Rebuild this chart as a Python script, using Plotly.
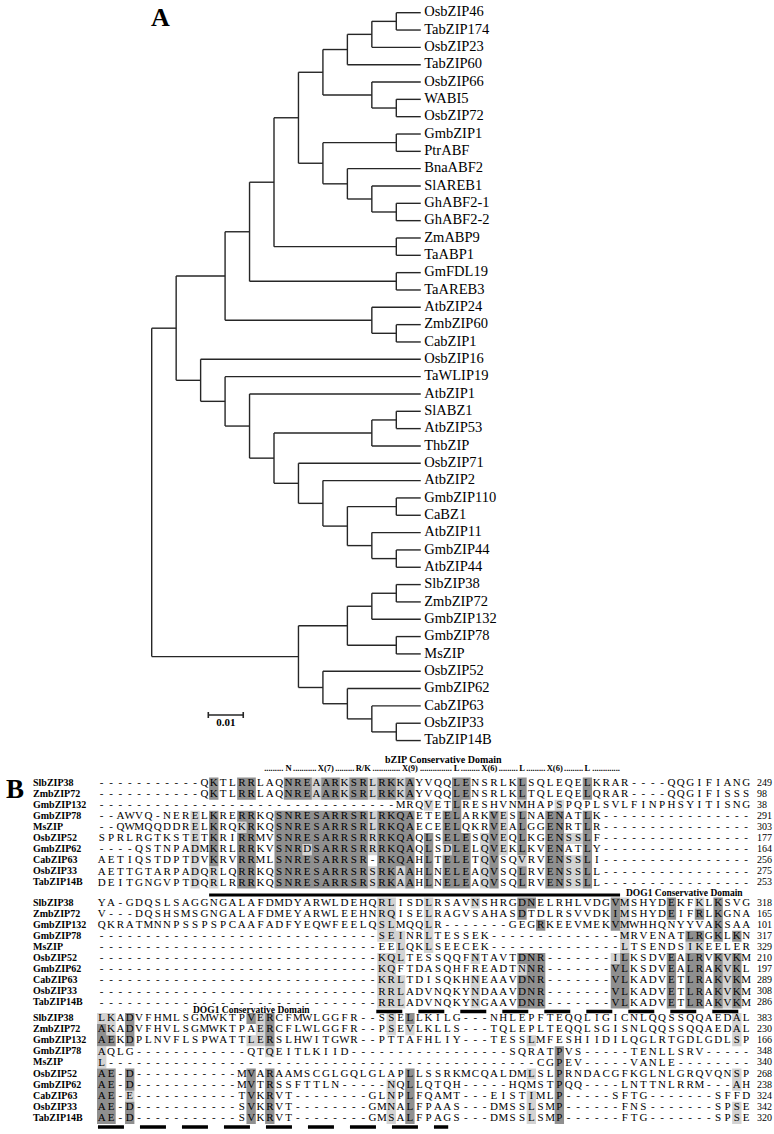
import plotly.graph_objects as go

# ======================= Panel A : tree (Newick, branch lengths) =======================
CLADE_ABF1 = "(((OsbZIP46:0.007,TabZIP174:0.007):0.007,OsbZIP23:0.014):0.007,TabZIP60:0.021)"
CLADE_ABF2 = "(OsbZIP66:0.014,(WABI5:0.007,OsbZIP72:0.007):0.007)"
CLADE_ABF3 = ("((GmbZIP1:0.007,PtrABF:0.007):0.021,(BnaABF2:0.021,"
              "(SlAREB1:0.014,(GhABF2-1:0.007,GhABF2-2:0.007):0.007):0.007):0.007)")
CLADE_ABP = "(ZmABP9:0.007,TaABP1:0.007)"
CLADE_FDL = "(GmFDL19:0.007,TaAREB3:0.007)"
CLADE_AT24 = "(AtbZIP24:0.014,(ZmbZIP60:0.007,CabZIP1:0.007):0.007)"
CLADE_ABZ = "((SlABZ1:0.007,AtbZIP53:0.007):0.007,ThbZIP:0.014)"
CLADE_BZ1 = ("((GmbZIP110:0.007,CaBZ1:0.007):0.014,"
             "(AtbZIP11:0.014,(GmbZIP44:0.007,AtbZIP44:0.007):0.007):0.007)")
CLADE_S1A = ("(((SlbZIP38:0.007,ZmbZIP72:0.007):0.007,GmbZIP132:0.014):0.007,"
             "(GmbZIP78:0.007,MsZIP:0.007):0.014)")
CLADE_S1B = ("(OsbZIP52:0.028,(GmbZIP62:0.021,(CabZIP63:0.014,"
             "(OsbZIP33:0.007,TabZIP14B:0.007):0.007):0.007):0.007)")

_u7 = f"({CLADE_ABF1}:0.007,{CLADE_ABF2}:0.014)"
_u6 = f"({_u7}:0.007,{CLADE_ABF3}:0.007)"
_u5 = f"({_u6}:0.007,{CLADE_ABP}:0.035)"
_u4 = f"({_u5}:0.007,{CLADE_FDL}:0.042)"
_u3 = f"({_u4}:0.007,{CLADE_AT24}:0.042)"
_m7 = f"(AtbZIP2:0.028,{CLADE_BZ1}:0.007)"
_m6 = f"(OsbZIP71:0.035,{_m7}:0.007)"
_m5 = f"({CLADE_ABZ}:0.028,{_m6}:0.007)"
_m4 = f"(AtbZIP1:0.049,{_m5}:0.007)"
_m3 = f"(TaWLIP19:0.056,{_m4}:0.007)"
_m2 = f"(OsbZIP16:0.063,{_m3}:0.007)"
_a1 = f"({_u3}:0.014,{_m2}:0.007)"
_low = f"({CLADE_S1A}:0.014,{CLADE_S1B}:0.007)"
TREE_NEWICK = f"({_a1}:0.007,{_low}:0.042);"

SCALE_BAR_LEN = 0.01
SCALE_BAR_LABEL = "0.01"

# ======================= Panel B : alignment =======================
SEQ_NAMES = ["SlbZIP38", "ZmbZIP72", "GmbZIP132", "GmbZIP78", "MsZIP",
             "OsbZIP52", "GmbZIP62", "CabZIP63", "OsbZIP33", "TabZIP14B"]

BLOCK1_SEQ = [
    "-" * 11 + "QKTLRRLAQNREAARKSRLRKKAYVQQLENSRLKLSQLEQELKRAR" + "----" + "QQGIFIANG",
    "-" * 11 + "QKTLRRLAQNREAARKSRLRKKAYVQQLENSRLKLTQLEQELQRAR" + "----" + "QQGIFISSS",
    "-" * 32 + "MRQVETLRESHVNMHAPSPQPLSVLFINPHSYITISNG",
    "--AWVQ-NERELKRERRKQSNRESARRSRLRKQAETEELARKVESLNAENATLK" + "-" * 16,
    "--QWMQQDDRELKRQKRKQSNRESARRSRLRKQAECEELQKRVEALGGENRTLR" + "-" * 16,
    "SPRLRGTKSTETKRIRRMVSNRESARRSRRRKQAQLSELESQVEQLKGENSSLF" + "-" * 16,
    "----QSTNPADMKRLRRKVSNRDSARRSRRRKQAQLSDLELQVEKLKVENATLY" + "-" * 16,
    "AETIQSTDPTDVKRVRRMLSNRESARRSR-RKQAHLTELETQVSQVRVENSSLI" + "-" * 16,
    "AETTGTARPADQRLQRRKQSNRESARRSRSRKAAHLNELEAQVSQLRVENSSLL" + "-" * 16,
    "DEITGNGVPTDQRLRRRKQSNRESARRSRSRKAAHLNELEAQVSQLRVENSSLL" + "-" * 16,
]
BLOCK1_END = [249, 98, 38, 291, 303, 177, 164, 256, 275, 253]

BLOCK2_SEQ = [
    "YA-GDQSLSAGGNGALAFDMDYARWLDEHQRLISDLRSAVNSHRGDNELRHLVDGVMSHYDEKFKLKSVG",
    "V---DQSHSMSGNGALAFDMEYARWLEEHNRQISELRAGVSAHASDTDLRSVVDKIMSHYDEIFRLKGNA",
    "QKRATMNNPSSPSPCAAFADFYEQWFEELQSLMQQLR" + "-" * 7 + "GEGRKEEVMEKVMWHHQNYYVAKSAA",
    "-" * 30 + "SEINRLTESSEK" + "-" * 14 + "MRVENATLRGKLKN",
    "-" * 30 + "EELQKLSEECEK" + "-" * 14 + "LTSENDSIKEELER",
    "-" * 30 + "KQLTESSQQFNTAVTDNR" + "-" * 7 + "ILKSDVEALRVKVKM",
    "-" * 30 + "KQFTDASQHFREADTNNR" + "-" * 7 + "VLKSDVEALRAKVKL",
    "-" * 30 + "KRLTDISQKHNEAAVDNR" + "-" * 7 + "VLKADVETLRAKVKM",
    "-" * 30 + "RRLADVNQKYNDAAVDNR" + "-" * 7 + "VLKADVETLRAKVKM",
    "-" * 30 + "RRLADVNQKYNGAAVDNR" + "-" * 7 + "VLKADVETLRAKVKM",
]
BLOCK2_END = [318, 165, 101, 317, 329, 210, 197, 289, 308, 286]

BLOCK3_SEQ = [
    "LKADVFHMLSGMWKTPVERCFMWLGGFR--SSELLKILG---NHLEPFTEQQLIGICNLQQSSQQAEDAL",
    "AKADVFHVLSGMWKTPAERCFLWLGGFR--PSEVLKLLS---TQLEPLTEQQLSGISNLQQSSQQAEDAL",
    "AEKDPLNVFLSPWATTLERSLHWITGWR--PTTAFHLIY---TESSLMFESHIIDILQGLRTGDLGDLSP",
    "AQLG" + "-" * 12 + "QTQEITLKIID" + "-" * 17 + "SQRATPVS" + "-" * 5 + "TENLLSRV" + "-" * 5,
    "L" + "-" * 46 + "CGPEV" + "-" * 5 + "VANLE" + "-" * 8,
    "AE-D" + "-" * 11 + "MVARAAMSCGLGQLGLAPLLSSRKMCQALDMLSLPRNDACGFKGLNLGRQVQNSP",
    "AE-D" + "-" * 11 + "MVTRSSFTTLN" + "-" * 5 + "NQLLQTQH" + "-" * 5 + "HQMSTPQQ" + "-" * 4 + "LNTTNLRRM" + "---" + "AH",
    "AE-E" + "-" * 11 + "TVKRVT" + "-" * 8 + "GLNPLFQAMT" + "---" + "EISTIMLP" + "-" * 5 + "SFTG" + "-" * 7 + "SFFD",
    "AE-D" + "-" * 11 + "SVKRVT" + "-" * 8 + "GMNALFPAAS" + "---" + "DMSSLSMP" + "-" * 6 + "FNS" + "-" * 7 + "SPSE",
    "AE-D" + "-" * 11 + "SVKRVT" + "-" * 8 + "GMSALFPAGS" + "---" + "DMSSLSMP" + "-" * 6 + "FTG" + "-" * 7 + "SPSE",
]
BLOCK3_END = [383, 230, 166, 348, 340, 268, 238, 324, 342, 320]

# homology shading: column indices per row (dark / light)
_b = list(range(19, 29))
BLOCK1_DARK = [
    [12, 15, 16, 20, 21, 22, 24, 25, 27, 28, 30, 31, 33, 38, 39, 45, 52],
    [12, 15, 16, 20, 21, 22, 24, 25, 27, 28, 30, 31, 33, 38, 39, 45, 52],
    [38],
    [12, 15, 16] + _b + [30, 31, 32, 33, 37, 38, 42, 45, 48, 49, 52],
    [12, 16] + _b + [30, 31, 32, 33, 37, 38, 42, 45, 48, 49, 52],
    [12, 15, 16] + _b + [30, 31, 32, 33, 35, 37, 38, 39, 42, 45, 48, 49, 52],
    [12, 15, 16, 19, 20, 21, 23, 24, 25, 26, 27, 28, 30, 31, 32, 33, 35, 38, 39, 42, 45, 48, 49, 52],
    [12, 15, 16] + _b + [30, 31, 32, 33, 35, 37, 38, 39, 42, 48, 49, 52],
    [15, 16] + _b + [30, 31, 33, 35, 37, 38, 39, 42, 45, 48, 49, 52],
    [15, 16] + _b + [30, 31, 33, 35, 37, 38, 39, 42, 45, 48, 49, 52],
]
BLOCK1_LIGHT = [
    [23, 26, 29, 32], [23, 26, 29, 32], [35, 45, 49],
    [10, 29, 43], [10, 15, 29, 43], [10, 29, 41, 43, 50, 51],
    [10, 22, 29, 37, 41, 43], [10, 41, 45, 50, 51],
    [10, 12, 29, 32, 41, 50, 51], [10, 12, 29, 32, 41, 50, 51],
]
BLOCK2_DARK = [
    [45, 46, 55, 61, 66], [45, 55, 61, 64, 66], [47, 55, 66], [63, 64, 66, 68], [],
    [45, 46, 47, 56, 61, 63, 64, 66, 68], [46, 47, 55, 56, 61, 63, 64, 66, 68],
    [45, 46, 47, 55, 56, 61, 63, 64, 66, 68], [45, 46, 47, 55, 56, 61, 63, 64, 66, 68],
    [45, 46, 47, 55, 56, 61, 63, 64, 66, 68],
]
BLOCK2_LIGHT = [
    [30, 31, 35, 40, 56, 64], [30, 31, 35, 56], [30, 31, 35, 56], [30, 31, 32, 35, 56],
    [32, 35, 56, 63, 64], [30, 31, 32, 40, 55, 67], [30, 31, 45, 67],
    [30, 31, 32, 40, 67], [30, 31, 32, 40, 67], [30, 31, 32, 40, 67],
]
BLOCK3_DARK = [
    [3, 16, 18, 33], [0, 3, 18], [0, 1, 3, 18], [49], [49],
    [0, 1, 3, 16, 18, 33, 49], [0, 1, 3, 16, 18, 33, 49], [0, 1, 16, 18, 33, 49],
    [0, 1, 3, 16, 18, 33, 49], [0, 1, 3, 16, 18, 33, 49],
]
BLOCK3_LIGHT = [
    [0, 1, 17, 31, 68], [1, 17, 31, 33, 68], [16, 17, 46, 68], [0, 18], [0],
    [46, 68], [31, 68], [3, 31, 46], [31, 46, 68], [31, 46, 68],
]

MOTIF_LABELS = ["N", "X(7)", "R/K", "X(9)", "L", "X(6)", "L", "X(6)", "L"]
MOTIF_COLS = [20, 24, 28, 33, 38, 41.5, 45, 48.5, 52]
MOTIF_SPAN = (17.3, 55.6)
BZIP_DOMAIN_COLS = (11.5, 55.5)          # block 1
DOG1_DOMAIN_B2 = (29.4, 68.8)            # block 2
DOG1_DOMAIN_B3 = (-0.4, 37.1)            # block 3

# ======================= geometry / styles =======================
W, H = 774, 1134
TREE_X0_PX, TREE_PX_PER_UNIT = 151.7, 24.46 / 0.007
TREE_Y0_PX, TREE_LEAF_PX = 12.7, 17.33
ALN_X0_PX, ALN_COL_PX = 101.7, 9.34
BLOCK_Y0 = [783.0, 903.0, 1018.5]
ROW_DY = 11.1
SERIF = "Liberation Serif"
DARK, LIGHT = "#8f8f8f", "#d3d3d3"


def parse_newick(s):
    pos = [0]

    def node():
        kids = []
        if s[pos[0]] == "(":
            pos[0] += 1
            while True:
                kids.append(node())
                ch = s[pos[0]]
                pos[0] += 1
                if ch == ")":
                    break
        st = pos[0]
        while s[pos[0]] not in ":,);":
            pos[0] += 1
        name = s[st:pos[0]]
        length = 0.0
        if s[pos[0]] == ":":
            pos[0] += 1
            st = pos[0]
            while s[pos[0]] not in ",);":
                pos[0] += 1
            length = float(s[st:pos[0]])
        return {"name": name, "len": length, "kids": kids}

    return node()


root = parse_newick(TREE_NEWICK)
leaves = []


def place(n, x0):
    n["x"] = x0 + n["len"]
    if not n["kids"]:
        n["y"] = len(leaves)
        leaves.append(n)
    else:
        for k in n["kids"]:
            place(k, n["x"])
        n["y"] = (n["kids"][0]["y"] + n["kids"][-1]["y"]) / 2


place(root, 0.0)
lx, ly = [], []


def draw(n):
    if n["kids"]:
        lx.extend([n["x"], n["x"], None])
        ly.extend([n["kids"][0]["y"], n["kids"][-1]["y"], None])
        for k in n["kids"]:
            lx.extend([n["x"], k["x"], None])
            ly.extend([k["y"], k["y"], None])
            draw(k)


draw(root)

fig = go.Figure()
fig.add_trace(go.Scatter(x=lx, y=ly, mode="lines", line=dict(color="#262626", width=1.4),
                         xaxis="x", yaxis="y", hoverinfo="skip"))
fig.add_trace(go.Scatter(x=[l["x"] + 3.5 / TREE_PX_PER_UNIT for l in leaves], y=[l["y"] for l in leaves],
                         text=[l["name"] for l in leaves], mode="text", textposition="middle right",
                         textfont=dict(family=SERIF, size=14.5, color="black"),
                         xaxis="x", yaxis="y", hoverinfo="skip"))
# scale bar
sb_x0 = (208.3 - TREE_X0_PX) / TREE_PX_PER_UNIT
sb_y = (715.0 - TREE_Y0_PX) / TREE_LEAF_PX
tk = 3.0 / TREE_LEAF_PX
fig.add_trace(go.Scatter(
    x=[sb_x0, sb_x0 + SCALE_BAR_LEN, None, sb_x0, sb_x0, None, sb_x0 + SCALE_BAR_LEN, sb_x0 + SCALE_BAR_LEN],
    y=[sb_y, sb_y, None, sb_y - tk, sb_y + tk, None, sb_y - tk, sb_y + tk],
    mode="lines", line=dict(color="#262626", width=1.6), xaxis="x", yaxis="y", hoverinfo="skip"))
fig.add_trace(go.Scatter(x=[sb_x0 + SCALE_BAR_LEN / 2], y=[sb_y + 8.5 / TREE_LEAF_PX], text=[SCALE_BAR_LABEL],
                         mode="text", textfont=dict(family=SERIF, size=11, color="black", weight="bold"),
                         xaxis="x", yaxis="y", hoverinfo="skip"))


# ---------------- alignment shading ----------------
def cell_polys(blocks):
    xs, ys = [], []
    for b, marks in enumerate(blocks):
        for r, cols in enumerate(marks):
            yc = BLOCK_Y0[b] + r * ROW_DY
            runs = []
            for c in sorted(cols):
                if runs and c == runs[-1][1] + 1:
                    runs[-1][1] = c
                else:
                    runs.append([c, c])
            for c0, c1 in runs:
                x0, x1 = c0 - 0.5, c1 + 0.5
                y0, y1 = yc - ROW_DY / 2, yc + ROW_DY / 2
                xs += [x0, x1, x1, x0, x0, None]
                ys += [y0, y0, y1, y1, y0, None]
    return xs, ys


for blocks, col in [([BLOCK1_LIGHT, BLOCK2_LIGHT, BLOCK3_LIGHT], LIGHT),
                    ([BLOCK1_DARK, BLOCK2_DARK, BLOCK3_DARK], DARK)]:
    xs, ys = cell_polys(blocks)
    fig.add_trace(go.Scatter(x=xs, y=ys, mode="lines", fill="toself", fillcolor=col,
                             line=dict(width=0, color=col), xaxis="x2", yaxis="y2", hoverinfo="skip"))

# ---------------- alignment text ----------------
sx, sy, st = [], [], []
nx, ny, nt = [], [], []
ex, ey, et = [], [], []
for b, (seqs, ends) in enumerate([(BLOCK1_SEQ, BLOCK1_END), (BLOCK2_SEQ, BLOCK2_END), (BLOCK3_SEQ, BLOCK3_END)]):
    for r, (seq, end) in enumerate(zip(seqs, ends)):
        yc = BLOCK_Y0[b] + r * ROW_DY
        for c, ch in enumerate(seq):
            sx.append(c)
            sy.append(yc)
            st.append(ch)
        nx.append((33.0 - ALN_X0_PX) / ALN_COL_PX)
        ny.append(yc)
        nt.append(SEQ_NAMES[r])
        ex.append((757.0 - ALN_X0_PX) / ALN_COL_PX)
        ey.append(yc)
        et.append(str(end))

fig.add_trace(go.Scatter(x=sx, y=sy, text=st, mode="text", textposition="middle center",
                         textfont=dict(family=SERIF, size=11, color="black"),
                         xaxis="x2", yaxis="y2", hoverinfo="skip"))
fig.add_trace(go.Scatter(x=nx, y=ny, text=nt, mode="text", textposition="middle right",
                         textfont=dict(family=SERIF, size=10, color="black", weight="bold"),
                         xaxis="x2", yaxis="y2", hoverinfo="skip"))
fig.add_trace(go.Scatter(x=ex, y=ey, text=et, mode="text", textposition="middle right",
                         textfont=dict(family=SERIF, size=10, color="black"),
                         xaxis="x2", yaxis="y2", hoverinfo="skip"))

# ---------------- domain marks ----------------
y_bzip = BLOCK_Y0[0] + 9 * ROW_DY + 12.0
fig.add_trace(go.Scatter(x=list(BZIP_DOMAIN_COLS), y=[y_bzip, y_bzip], mode="lines",
                         line=dict(color="black", width=3), xaxis="x2", yaxis="y2", hoverinfo="skip"))
for b, span in [(1, DOG1_DOMAIN_B2), (2, DOG1_DOMAIN_B3)]:
    yd = BLOCK_Y0[b] + 9 * ROW_DY + 8.5
    fig.add_trace(go.Scatter(x=list(span), y=[yd, yd], mode="lines",
                             line=dict(color="black", width=3.5, dash="26px,16px"),
                             xaxis="x2", yaxis="y2", hoverinfo="skip"))

# motif line above block 1
MOTIF_Y = 769.0
MOTIF_SIZE = 8.5
cw = {"N": 0.72, "X": 0.72, "R": 0.72, "K": 0.78, "L": 0.67, "(": 0.33, ")": 0.33, "/": 0.28}
fig.add_trace(go.Scatter(x=MOTIF_COLS, y=[MOTIF_Y] * len(MOTIF_COLS), text=MOTIF_LABELS, mode="text",
                         textfont=dict(family=SERIF, size=MOTIF_SIZE, color="black", weight="bold"),
                         xaxis="x2", yaxis="y2", hoverinfo="skip"))
edges = [MOTIF_SPAN[0]]
for lab, c in zip(MOTIF_LABELS, MOTIF_COLS):
    half = sum(cw.get(ch, 0.5) for ch in lab) * MOTIF_SIZE / 2 / ALN_COL_PX + 0.12
    edges += [c - half, c + half]
edges.append(MOTIF_SPAN[1])
dx, dy, dt = [], [], []
for i in range(0, len(edges), 2):
    a, bnd = edges[i], edges[i + 1]
    n = int((bnd - a) * ALN_COL_PX / 2.15)
    if n > 0:
        dx.append((a + bnd) / 2)
        dy.append(MOTIF_Y)
        dt.append("." * n)
fig.add_trace(go.Scatter(x=dx, y=dy, text=dt, mode="text",
                         textfont=dict(family=SERIF, size=MOTIF_SIZE, color="black", weight="bold"),
                         xaxis="x2", yaxis="y2", hoverinfo="skip"))

annos = [
    dict(text="A", x=160 / W, y=1 - 17.5 / H, xref="paper", yref="paper",
         font=dict(family=SERIF, size=26, color="black", weight="bold")),
    dict(text="B", x=15 / W, y=1 - 789 / H, xref="paper", yref="paper",
         font=dict(family=SERIF, size=27, color="black", weight="bold")),
    dict(text="bZIP Conservative Domain", x=36.6, y=759, xref="x2", yref="y2",
         font=dict(family=SERIF, size=10, color="black", weight="bold")),
    dict(text="DOG1 Conservative Domain", x=62.4, y=893, xref="x2", yref="y2",
         font=dict(family=SERIF, size=9.5, color="black", weight="bold")),
    dict(text="DOG1 Conservative Domain", x=16.0, y=1010, xref="x2", yref="y2",
         font=dict(family=SERIF, size=9.5, color="black", weight="bold")),
]
for a in annos:
    a.update(showarrow=False, xanchor="center", yanchor="middle")

fig.update_layout(
    width=W, height=H, margin=dict(l=0, r=0, t=0, b=0),
    paper_bgcolor="white", plot_bgcolor="rgba(0,0,0,0)", showlegend=False,
    xaxis=dict(domain=[0, 1], range=[-TREE_X0_PX / TREE_PX_PER_UNIT, (W - TREE_X0_PX) / TREE_PX_PER_UNIT],
               visible=False, anchor="y"),
    yaxis=dict(domain=[0, 1], range=[(H - TREE_Y0_PX) / TREE_LEAF_PX, -TREE_Y0_PX / TREE_LEAF_PX],
               visible=False, anchor="x"),
    xaxis2=dict(domain=[0, 1], range=[-ALN_X0_PX / ALN_COL_PX, (W - ALN_X0_PX) / ALN_COL_PX],
                visible=False, anchor="y2"),
    yaxis2=dict(domain=[0, 1], range=[H, 0], visible=False, anchor="x2"),
    annotations=annos,
)

fig.write_html("out.html", config={"displayModeBar": False},
               post_script="document.body.style.margin='0px';")
